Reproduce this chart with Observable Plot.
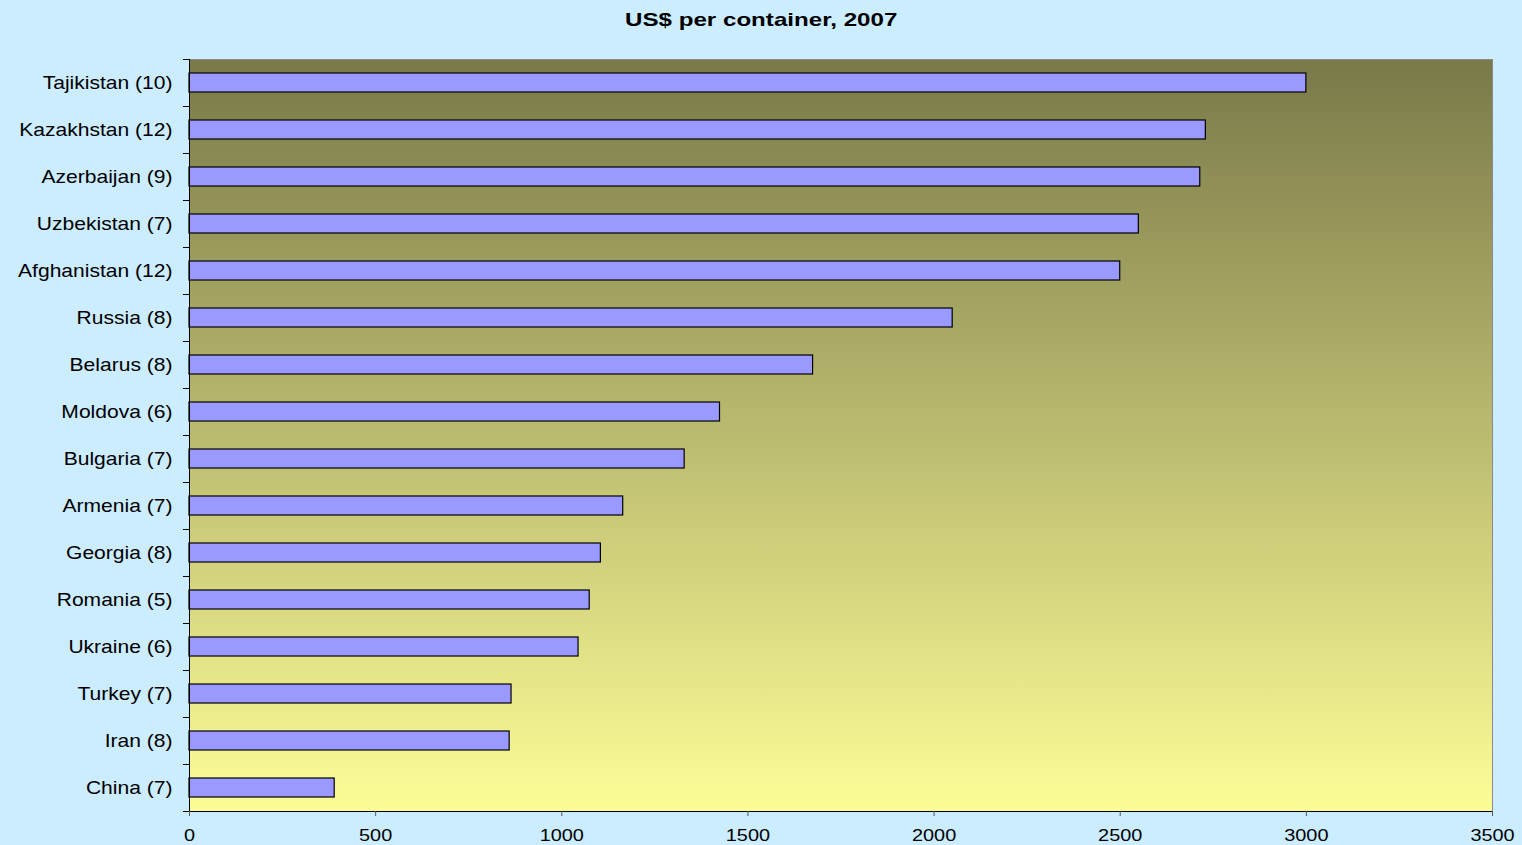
<!DOCTYPE html>
<html>
<head>
<meta charset="utf-8">
<script src="https://cdn.jsdelivr.net/npm/d3@7"></script>
<script src="https://cdn.jsdelivr.net/npm/@observablehq/plot@0.6"></script>
<style>
html, body { margin: 0; padding: 0; background: #CCECFF; }
#wrap { width: 1522px; height: 845px; background: #CCECFF; font-family: "Liberation Sans", Arial, sans-serif; overflow: hidden; }
#title { height: 40px; line-height: 40px; text-align: center; }
#title span { display: inline-block; font-weight: bold; font-size: 19px; color: #000; transform: scaleX(1.27); }
</style>
</head>
<body>
<div id="wrap">
  <div id="title"><span>US$ per container, 2007</span></div>
  <div id="chart"></div>
</div>
<script>
// Categories (top to bottom) and cost per container, US$ (2007)
const countries = [
  "Tajikistan (10)", "Kazakhstan (12)", "Azerbaijan (9)", "Uzbekistan (7)",
  "Afghanistan (12)", "Russia (8)", "Belarus (8)", "Moldova (6)",
  "Bulgaria (7)", "Armenia (7)", "Georgia (8)", "Romania (5)",
  "Ukraine (6)", "Turkey (7)", "Iran (8)", "China (7)"
];
const costs = [3000, 2730, 2715, 2550, 2500, 2050, 1675, 1425, 1330, 1165, 1105, 1075, 1045, 865, 860, 390];
const xTicks = [0, 500, 1000, 1500, 2000, 2500, 3000, 3500];

const data = countries.map((c, i) => ({country: c, cost: costs[i]}));

// gradient definition for the plot area
function gradientDefs() {
  const defs = d3.create("svg:defs");
  const lg = defs.append("linearGradient").attr("id", "plotGrad")
    .attr("x1", 0).attr("y1", 0).attr("x2", 0).attr("y2", 1);
  lg.append("stop").attr("offset", "0%").attr("stop-color", "#797949");
  lg.append("stop").attr("offset", "100%").attr("stop-color", "#FDFD97");
  return defs.node();
}

// tick marks at band boundaries (Excel style) plus bottom axis line
function bandBoundaryTicks(index, scales, values, dims) {
  const n = countries.length;
  const top = dims.marginTop;
  const bottom = dims.height - dims.marginBottom;
  const left = dims.marginLeft;
  const right = dims.width - dims.marginRight;
  const step = (bottom - top) / n;
  const g = d3.create("svg:g").attr("stroke", "#000").attr("stroke-width", 1);
  for (let k = 0; k <= n; k++) {
    const y = Math.round(top + k * step) + 0.5;
    g.append("line").attr("x1", left - 6).attr("x2", left).attr("y1", y).attr("y2", y);
  }
  g.append("line").attr("x1", left).attr("x2", right).attr("y1", bottom + 0.5).attr("y2", bottom + 0.5);
  return g.node();
}

const chart = Plot.plot({
  width: 1522,
  height: 805,
  marginTop: 19,
  marginBottom: 34,
  marginLeft: 189,
  marginRight: 30,
  style: {
    fontFamily: "'Liberation Sans', Arial, sans-serif",
    fontSize: "18px",
    background: "transparent",
    color: "#000",
    overflow: "visible"
  },
  x: {domain: [0, 3500], label: null},
  y: {domain: countries, paddingInner: 0.6, paddingOuter: 0.3, label: null},
  marks: [
    gradientDefs,
    Plot.frame({fill: "url(#plotGrad)", stroke: "#8a8a8a", strokeWidth: 1}),
    Plot.barX(data, {y: "country", x1: 0, x2: "cost", fill: "#9999FF", stroke: "#000", strokeWidth: 1.2}),
    Plot.ruleX([0], {stroke: "#000", strokeWidth: 1}),
    bandBoundaryTicks,
    Plot.axisX({ticks: xTicks, tickSize: 5, tickPadding: 12, fontSize: 17, stroke: "#555", label: null, tickFormat: d3.format("d")}),
    Plot.axisY({tickSize: 0, tickPadding: 17, fontSize: 18, label: null})
  ]
});

// widen glyphs horizontally (the reference text is horizontally stretched)
chart.querySelectorAll("text").forEach(t => {
  const tr = t.getAttribute("transform");
  if (tr) {
    t.setAttribute("transform", tr + " scale(1.17,1)");
  } else {
    const x = t.getAttribute("x") || 0, y = t.getAttribute("y") || 0;
    t.removeAttribute("x"); t.removeAttribute("y");
    t.setAttribute("transform", `translate(${x},${y}) scale(1.17,1)`);
  }
});

document.getElementById("chart").appendChild(chart);
</script>
</body>
</html>
